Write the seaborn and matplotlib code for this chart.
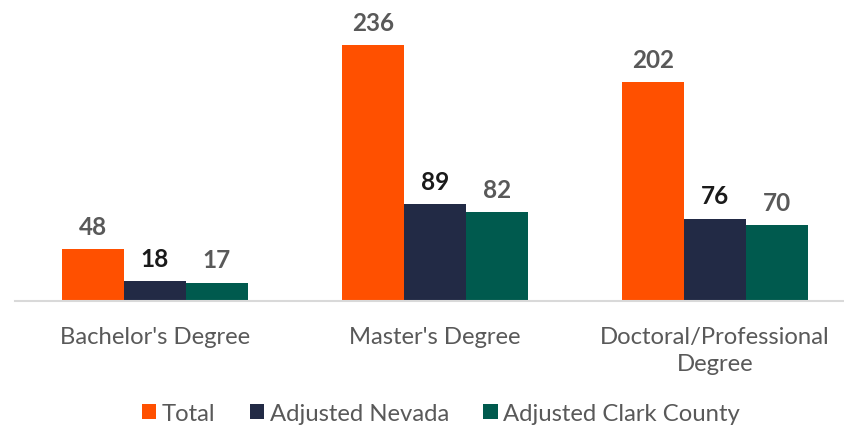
import matplotlib
matplotlib.use("Agg")
import matplotlib.pyplot as plt
import seaborn as sns
import pandas as pd
from matplotlib.patches import Patch

categories = ["Bachelor's Degree", "Master's Degree", "Doctoral/Professional\nDegree"]
series = ["Total", "Adjusted Nevada", "Adjusted Clark County"]
total = [48, 236, 202]
adj_nevada = [18, 89, 76]
adj_clark = [17, 82, 70]

colors = ["#FF5000", "#222A45", "#005A4E"]
label_colors = ["#595959", "#1a1a1a", "#595959"]

rows = []
for s, vals in zip(series, [total, adj_nevada, adj_clark]):
    for c, v in zip(categories, vals):
        rows.append({"Category": c, "Series": s, "Value": v})
df = pd.DataFrame(rows)

sns.set_style("white")
plt.rcParams["font.family"] = ["Lato", "DejaVu Sans"]

W, H = 844, 427
fig = plt.figure(figsize=(W / 100, H / 100), dpi=100)
ax_left = 15
ax_bottom = H - 302
ax_top = H - 20
ax = fig.add_axes([ax_left / W, ax_bottom / H, (W - ax_left) / W, (ax_top - ax_bottom) / H])

sns.barplot(data=df, x="Category", y="Value", hue="Series", palette=colors,
            width=0.664, gap=0, ax=ax, legend=False, saturation=1,
            linewidth=0, edgecolor="none")

px_per_unit = 256 / 236
ax.set_ylim(0, (ax_top - ax_bottom) / px_per_unit)
ax.set_xlim(-0.5, 2.5 - 11 / 280)

for i, cont in enumerate(ax.containers):
    ax.bar_label(cont, labels=[str(v) for v in [total, adj_nevada, adj_clark][i]],
                 padding=8, fontsize=17.5, fontweight="bold", color=label_colors[i])

for sp in ["top", "right", "left"]:
    ax.spines[sp].set_visible(False)
ax.spines["bottom"].set_color("#d9d9d9")
ax.spines["bottom"].set_linewidth(1.5)
ax.set_yticks([])
ax.set_xlabel("")
ax.set_ylabel("")
ax.tick_params(axis="x", length=0, pad=18, labelsize=17.2, labelcolor="#595959")
for t in ax.get_xticklabels():
    t.set_linespacing(1.35)

handles = [Patch(facecolor=c, edgecolor="none") for c in colors]
fig.legend(handles, series, loc="center", bbox_to_anchor=(441 / W, 1 - 414.5 / H),
           ncol=3, frameon=False, fontsize=17.2, labelcolor="#595959",
           handlelength=0.6, handleheight=0.6, handletextpad=0.22, columnspacing=1.45,
           borderpad=0.2)

fig.savefig("out.png", dpi=100)
